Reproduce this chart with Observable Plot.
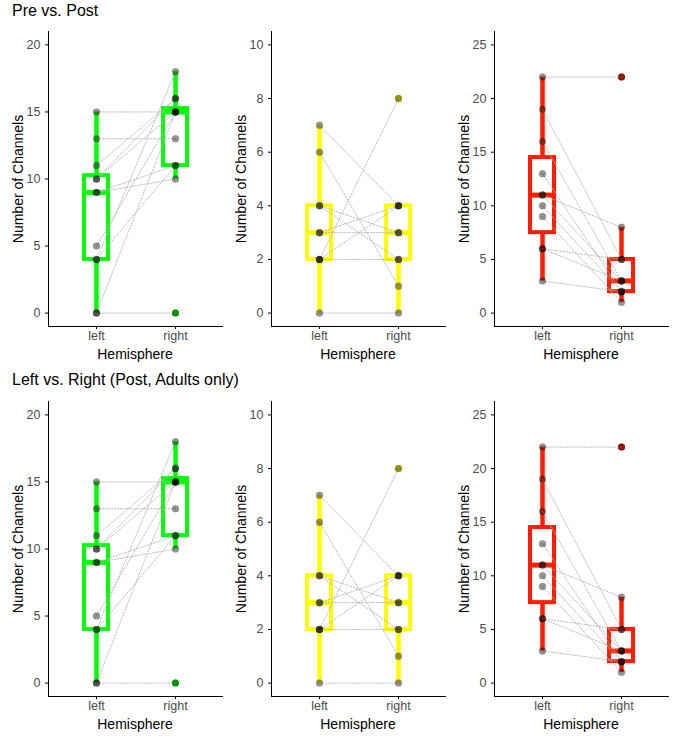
<!DOCTYPE html>
<html>
<head>
<meta charset="utf-8">
<script src="https://cdn.jsdelivr.net/npm/d3@7"></script>
<script src="https://cdn.jsdelivr.net/npm/@observablehq/plot@0.6"></script>
<style>
  body { margin: 0; background: white; font-family: "Liberation Sans", Arial, sans-serif; }
  #root { position: relative; width: 680px; height: 741px; overflow: hidden; background: white; }
  .abs { position: absolute; white-space: nowrap; color: black; }
  .rowtitle { font-size: 16px; }
  .axtitle { font-size: 14px; text-align: center; width: 200px; height: 20px; line-height: 20px; }
  .panel svg text { fill: #4d4d4d; font-size: 12.5px !important; }
</style>
</head>
<body>
<div id="root"></div>
<script>
// ---- data ----
const hemispheres = ["left", "right"];
const rowTitles = ["Pre vs. Post", "Left vs. Right (Post, Adults only)"];
const yTitle = "Number of Channels";
const xTitle = "Hemisphere";

// paired values per subject (index i = same subject)
const greenLeft  = [15, 13, 11, 10, 10, 9, 9, 5, 4, 4, 0, 0];
const greenRight = [15, 13, 16, 15, 16, 10, 11, 15, 11, 18, 15, 0];
const yellowLeft  = [7, 6, 4, 4, 3, 3, 2, 2, 2, 0];
const yellowRight = [4, 1, 2, 3, 4, 3, 8, 2, 4, 0];
const redLeft  = [22, 19, 16, 13, 11, 11, 10, 9, 6, 6, 3];
const redRight = [22, 5, 3, 2, 8, 3, 2, 1, 5, 3, 2];

const greenTicks = [0, 5, 10, 15, 20];
const yellowTicks = [0, 2, 4, 6, 8, 10];
const redTicks = [0, 5, 10, 15, 20, 25];

const colors = ["#00ff00", "#ffff00", "#ff1f00"];

// ---- helpers ----
function stats(values) {
  const v = values.slice().sort(d3.ascending);
  const q1 = d3.quantile(v, 0.25), q3 = d3.quantile(v, 0.75), med = d3.quantile(v, 0.5);
  const iqr = q3 - q1;
  const loF = q1 - 1.5 * iqr, hiF = q3 + 1.5 * iqr;
  const lo = d3.min(v.filter(d => d >= loF)), hi = d3.max(v.filter(d => d <= hiF));
  return {q1, q3, med, lo, hi, loF, hiF};
}

const root = document.getElementById("root");
const font = '"Liberation Sans", Arial, sans-serif';

const panelsSpec = [
  {left: greenLeft, right: greenRight, color: colors[0], ticks: greenTicks},
  {left: yellowLeft, right: yellowRight, color: colors[1], ticks: yellowTicks},
  {left: redLeft, right: redRight, color: colors[2], ticks: redTicks}
];

const axisXs = [48, 271, 494];
const rowTops = [24, 394];
const titleTops = [2, 371];
const ML = 48, MR = 8, MT = 7, MB = 18, PW = 174, PH = 295;

rowTitles.forEach((t, r) => {
  const d = document.createElement("div");
  d.className = "abs rowtitle";
  d.style.left = "12px";
  d.style.top = titleTops[r] + "px";
  d.textContent = t;
  root.appendChild(d);

  panelsSpec.forEach((p, c) => {
    const data = [];
    p.left.forEach((v, i) => data.push({id: i, hemi: hemispheres[0], n: v}));
    p.right.forEach((v, i) => data.push({id: i, hemi: hemispheres[1], n: v}));
    const st = {};
    hemispheres.forEach(h => st[h] = stats(data.filter(d => d.hemi === h).map(d => d.n)));
    const ymax = d3.max(p.ticks);

    const chart = Plot.plot({
      width: ML + PW + MR, height: MT + PH + MB,
      marginLeft: ML, marginRight: MR, marginTop: MT, marginBottom: MB,
      style: {background: "transparent", fontFamily: font, fontSize: "12.5px", color: "black", overflow: "visible"},
      x: {type: "band", domain: hemispheres, paddingInner: 0.7, paddingOuter: 0.45, align: 0.5,
          label: null, tickSize: 3, tickPadding: 2, line: true},
      y: {domain: [-0.05 * ymax, 1.05 * ymax], ticks: p.ticks, label: null, tickSize: 3, tickPadding: 5, line: true},
      marks: [
        Plot.ruleX(data, Plot.groupX({y1: v => stats(v).lo, y2: v => stats(v).hi},
          {x: "hemi", y: "n", stroke: p.color, strokeWidth: 4.5})),
        Plot.barY(data, Plot.groupX({y1: v => stats(v).q1, y2: v => stats(v).q3},
          {x: "hemi", y: "n", fill: "white", stroke: p.color, strokeWidth: 4})),
        Plot.tickY(data, Plot.groupX({y: v => stats(v).med},
          {x: "hemi", y: "n", stroke: p.color, strokeWidth: 5})),
        Plot.dot(data, {filter: d => d.n < st[d.hemi].loF || d.n > st[d.hemi].hiF,
          x: "hemi", y: "n", r: 3.5, fill: p.color, stroke: "none"}),
        Plot.line(data, {x: "hemi", y: "n", z: "id", stroke: "#b3b3b3", strokeWidth: 0.9, strokeDasharray: "1.3,1.7"}),
        Plot.dot(data, {x: "hemi", y: "n", r: 3.5, fill: "black", fillOpacity: 0.42,
          stroke: "black", strokeOpacity: 0.15, strokeWidth: 0.6})
      ]
    });

    const wrap = document.createElement("div");
    wrap.className = "abs panel";
    wrap.style.left = (axisXs[c] - ML) + "px";
    wrap.style.top = rowTops[r] + "px";
    wrap.appendChild(chart);
    root.appendChild(wrap);

    // y title
    const yt = document.createElement("div");
    yt.className = "abs axtitle";
    const yc = rowTops[r] + MT + PH / 2;
    const xc = axisXs[c] - 30;
    yt.style.left = (xc - 100) + "px";
    yt.style.top = (yc - 10) + "px";
    yt.style.transform = "rotate(-90deg)";
    yt.textContent = yTitle;
    root.appendChild(yt);

    // x title
    const xt = document.createElement("div");
    xt.className = "abs axtitle";
    xt.style.left = (axisXs[c] + PW / 2 - 100) + "px";
    xt.style.top = (rowTops[r] + MT + PH + 18) + "px";
    xt.textContent = xTitle;
    root.appendChild(xt);
  });
});
</script>
</body>
</html>
